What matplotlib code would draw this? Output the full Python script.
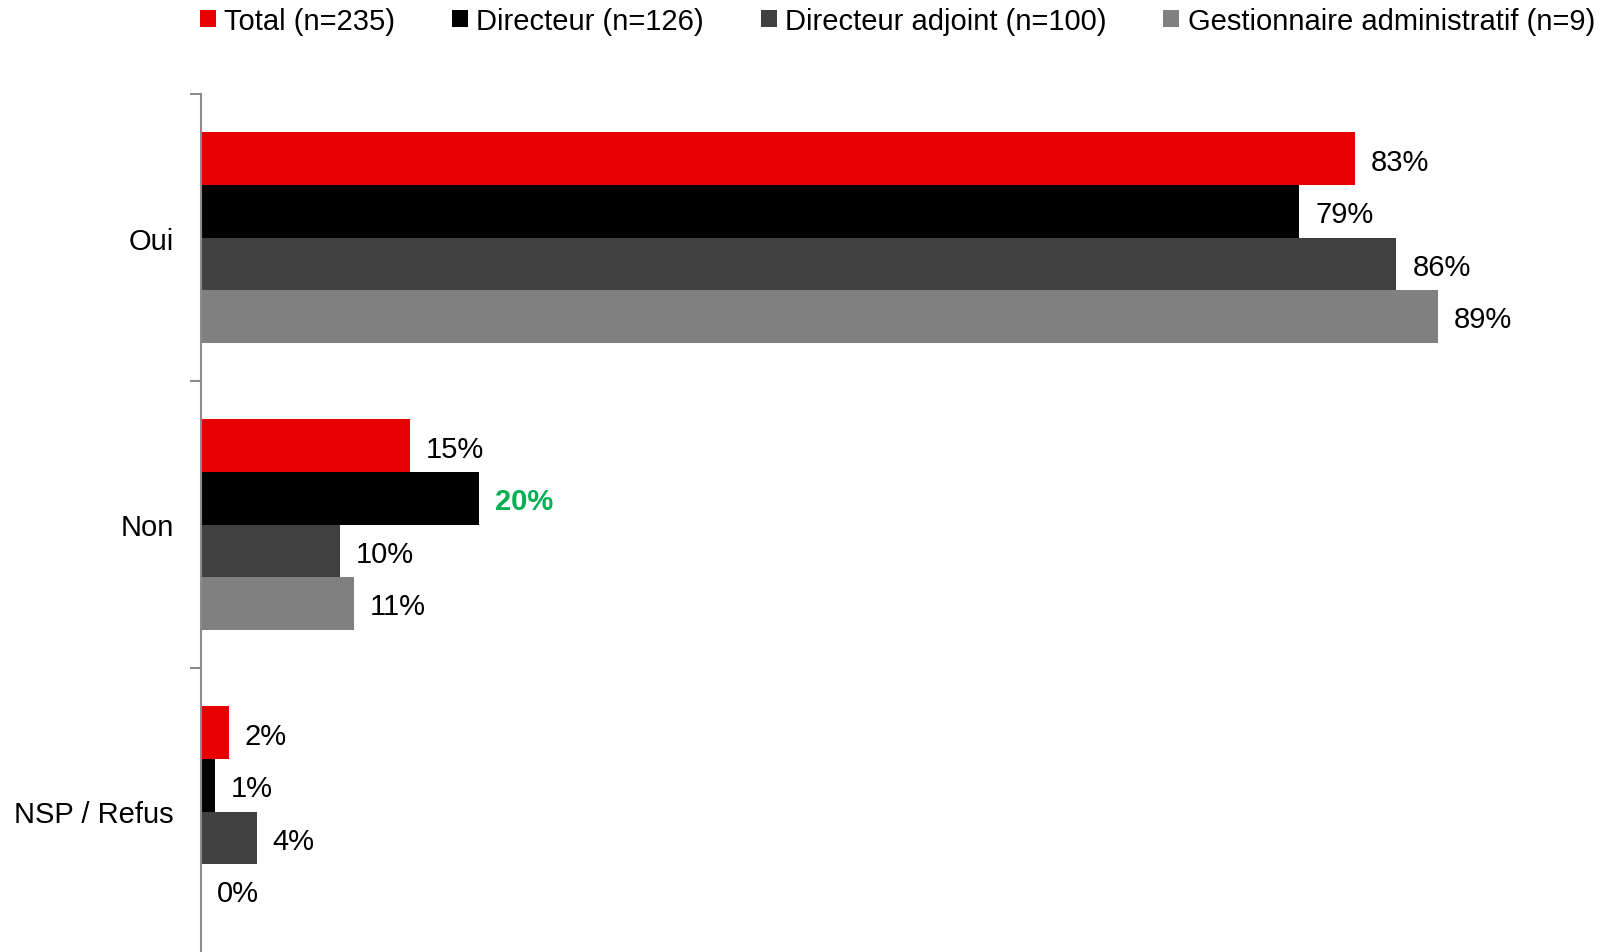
import matplotlib.pyplot as plt
import numpy as np
from matplotlib.patches import Patch

plt.rcParams['font.family'] = ['Liberation Sans', 'DejaVu Sans']

categories = ["Oui", "Non", "NSP / Refus"]
series = ["Total (n=235)", "Directeur (n=126)", "Directeur adjoint (n=100)",
          "Gestionnaire administratif (n=9)"]
total = [83, 15, 2]
directeur = [79, 20, 1]
adjoint = [86, 10, 4]
gestionnaire = [89, 11, 0]
values = [total, directeur, adjoint, gestionnaire]
colors = ["#E60000", "#000000", "#404040", "#808080"]

W, H = 1607, 953
fig = plt.figure(figsize=(W / 100, H / 100), dpi=100)
ax = fig.add_axes([201 / W, -3 / H, 1390 / W, 861 / H])

bar_h = 0.183
y = np.arange(len(categories))
for i, (vals, col) in enumerate(zip(values, colors)):
    pos = y - 1.5 * bar_h + i * bar_h
    ax.barh(pos, vals, height=bar_h, color=col, edgecolor='none')
    for p, v in zip(pos, vals):
        # highlighted value in green
        if i == 1 and v == 20:
            ax.annotate(f"{v}%", (v, p), xytext=(16, -3), textcoords='offset pixels',
                        va='center', ha='left', fontsize=21, color='#00B050',
                        fontweight='bold')
        else:
            ax.annotate(f"{v}%", (v, p), xytext=(16, -3), textcoords='offset pixels',
                        va='center', ha='left', fontsize=21, color='black')

ax.set_xlim(0, 100)
ax.set_ylim(2.5, -0.5)

# ticks on category boundaries, labels in the middle
ax.set_yticks([-0.5, 0.5, 1.5, 2.5])
ax.set_yticklabels([])
ax.set_yticks(y, minor=True)
ax.set_yticklabels(categories, minor=True, fontsize=21)
ax.tick_params(axis='y', which='major', length=8, width=1.5, color='#8c8c8c')
ax.tick_params(axis='y', which='minor', length=0, pad=19.5)
ax.set_xticks([])

for s in ['top', 'right', 'bottom']:
    ax.spines[s].set_visible(False)
ax.spines['left'].set_color('#8c8c8c')
ax.spines['left'].set_linewidth(1.5)

handles = [Patch(facecolor=c, edgecolor='none') for c in colors]
fig.legend(handles, series, loc='upper left', bbox_to_anchor=(200 / W, 1 - 8 / H),
           ncol=4, frameon=False, fontsize=21, handlelength=0.55, handleheight=0.55,
           handletextpad=0.28, columnspacing=1.95, borderpad=0, borderaxespad=0)

fig.savefig("out.png", dpi=100)
